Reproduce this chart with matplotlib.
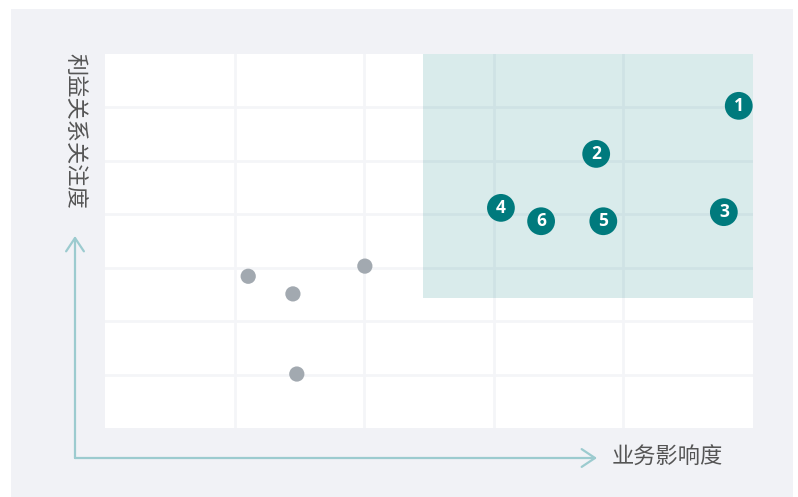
import matplotlib
matplotlib.use("Agg")
import matplotlib.pyplot as plt
import matplotlib.patches as patches

plt.rcParams['font.family'] = ['Noto Sans CJK SC', 'DejaVu Sans']

# key stakeholders (numbered, teal)
key_ids = ["1", "2", "3", "4", "5", "6"]
key_x = [97.8, 75.8, 95.5, 61.1, 76.9, 67.3]
key_y = [60.3, 51.3, 40.4, 41.2, 38.7, 38.7]

# other stakeholders (gray)
other_x = [22.1, 29.0, 40.1, 29.6]
other_y = [28.4, 25.1, 30.3, 10.1]

# highlighted quadrant
zone_x0, zone_x1 = 49, 100
zone_y0, zone_y1 = 24.3, 70

x_label = "业务影响度"
y_label = "利益关系关注度"

W, H = 798, 497
fig = plt.figure(figsize=(W / 100, H / 100), dpi=100)
fig.patch.set_facecolor("white")

# gray panel behind everything
fig.patches.append(patches.Rectangle(
    (11 / W, 0), (793 - 11) / W, (H - 9) / H,
    transform=fig.transFigure, facecolor="#f1f2f6", edgecolor="none", zorder=-1))

ax = fig.add_axes([105 / W, (H - 428) / H, (753 - 105) / W, (428 - 54) / H])
ax.set_zorder(1)
ax.set_facecolor("white")
ax.set_xlim(0, 100)
ax.set_ylim(0, 70)
ax.set_xticks(range(20, 100, 20))
ax.set_yticks(range(10, 70, 10))
ax.tick_params(length=0, labelbottom=False, labelleft=False)
for s in ax.spines.values():
    s.set_visible(False)
ax.grid(True, color="#f4f5f8", linewidth=2)
ax.set_axisbelow(True)

ax.add_patch(patches.Rectangle(
    (zone_x0, zone_y0), zone_x1 - zone_x0, zone_y1 - zone_y0,
    facecolor="#007a7d", alpha=0.15, edgecolor="none", zorder=2))

ax.scatter(other_x, other_y, s=120, color="#a2a9b0", edgecolor="none", zorder=3)
ax.scatter(key_x, key_y, s=400, color="#007a7d", edgecolor="none", zorder=4,
           clip_on=False)
for lab, x, y in zip(key_ids, key_x, key_y):
    ax.text(x, y, lab, color="white", fontsize=12.5, fontweight="bold",
            family=["Open Sans", "DejaVu Sans"], ha="center", va="center", zorder=5)

# axis arrows
arrow_color = "#9ccbcf"
ox, oy = 75 / W, (H - 458) / H
fig.add_artist(patches.FancyArrowPatch(
    (ox, oy), (ox, (H - 236) / H), transform=fig.transFigure,
    arrowstyle="->,head_length=6,head_width=4", color=arrow_color,
    linewidth=1.6, mutation_scale=1.6, shrinkA=0, shrinkB=0))
fig.add_artist(patches.FancyArrowPatch(
    (ox, oy), (597 / W, oy), transform=fig.transFigure,
    arrowstyle="->,head_length=6,head_width=4", color=arrow_color,
    linewidth=1.6, mutation_scale=1.6, shrinkA=0, shrinkB=0))

fig.text(612 / W, (H - 457) / H, x_label, fontsize=16, color="#555555",
         ha="left", va="center")
fig.text(75 / W, (H - 131) / H, y_label, fontsize=16, color="#555555",
         ha="center", va="center", rotation=270)

fig.savefig("out.png", dpi=100, facecolor=fig.get_facecolor())
